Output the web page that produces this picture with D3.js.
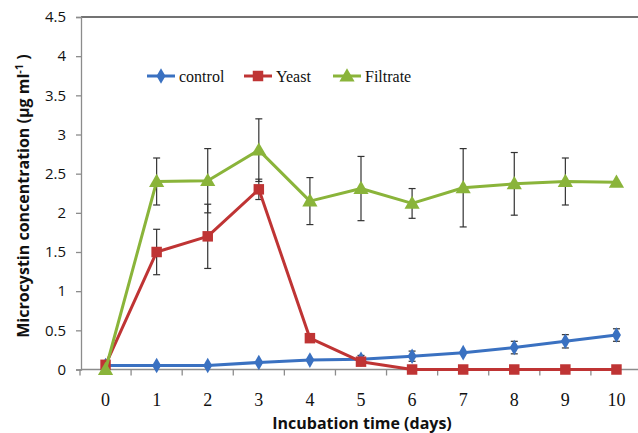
<!DOCTYPE html>
<html>
<head>
<meta charset="utf-8">
<script src="https://cdn.jsdelivr.net/npm/d3@7"></script>
<style>
  html, body { margin: 0; padding: 0; background: #fff; }
  svg { display: block; }
</style>
</head>
<body>
<svg id="chart" width="638" height="433"></svg>
<script>
// Incubation days
const days = [0, 1, 2, 3, 4, 5, 6, 7, 8, 9, 10];

// Microcystin concentration (µg/ml) and standard deviations per treatment
const controlMean = [0.05, 0.05, 0.05, 0.09, 0.12, 0.13, 0.17, 0.215, 0.28, 0.36, 0.44];
const controlErr  = [0, 0, 0, 0, 0, 0.05, 0.065, 0, 0.08, 0.085, 0.08];

const yeastMean = [0.06, 1.5, 1.7, 2.3, 0.4, 0.1, 0, 0, 0, 0, 0];
const yeastErr  = [0, 0.29, 0.41, 0.13, 0, 0, 0, 0, 0, 0, 0];

const filtrateMean = [0, 2.4, 2.41, 2.8, 2.15, 2.31, 2.12, 2.32, 2.37, 2.4, 2.39];
const filtrateErr  = [0, 0.3, 0.41, 0.4, 0.3, 0.41, 0.19, 0.5, 0.4, 0.3, 0];

const yTicks = [0, 0.5, 1, 1.5, 2, 2.5, 3, 3.5, 4, 4.5];

const seriesNames = ["control", "Yeast", "Filtrate"];
const seriesColors = ["#3a71c1", "#bf3434", "#8ab43a"];

const series = [
  { name: seriesNames[0], color: seriesColors[0], mean: controlMean, err: controlErr, symbol: d3.symbolDiamond, size: 70 },
  { name: seriesNames[1], color: seriesColors[1], mean: yeastMean, err: yeastErr, symbol: d3.symbolSquare, size: 110 },
  { name: seriesNames[2], color: seriesColors[2], mean: filtrateMean, err: filtrateErr, symbol: d3.symbolTriangle, size: 100 }
];

const svg = d3.select("#chart");
const plotLeft = 80, plotRight = 642, plotTop = 17, plotBottom = 369.5;

const x = d3.scalePoint().domain(days).range([plotLeft, plotRight]).padding(0.5);
const band = x.step();
const y = d3.scaleLinear().domain([0, 4.5]).range([plotBottom, plotTop]);

const axisColor = "#8c8c8c";

// Top frame line
svg.append("line")
  .attr("x1", plotLeft + 1).attr("x2", 638)
  .attr("y1", plotTop).attr("y2", plotTop)
  .attr("stroke", "#444").attr("stroke-width", 1.5);

// Y axis
const yAxis = svg.append("g")
  .attr("transform", `translate(${plotLeft + 1},0)`)
  .call(d3.axisLeft(y).tickValues(yTicks).tickSize(5).tickPadding(10)
    .tickFormat(d => d3.format("")(d)));
yAxis.select(".domain").attr("stroke", axisColor).attr("stroke-width", 1.3);
yAxis.selectAll(".tick line").attr("stroke", axisColor).attr("stroke-width", 1.3);
yAxis.selectAll(".tick text")
  .attr("font-family", "'Open Sans', 'Noto Sans', sans-serif")
  .attr("font-size", 15).attr("fill", "#111");

// X axis: labels centered on days, ticks on category boundaries
const xAxisG = svg.append("g").attr("transform", `translate(0,${plotBottom})`);
xAxisG.append("line")
  .attr("x1", plotLeft + 1).attr("x2", 638)
  .attr("stroke", axisColor).attr("stroke-width", 1.3);
const boundaries = days.map(d => x(d) - band / 2).concat([x(days[days.length - 1]) + band / 2]);
xAxisG.selectAll("line.tk").data(boundaries).join("line")
  .attr("class", "tk")
  .attr("x1", d => d).attr("x2", d => d)
  .attr("y1", 0).attr("y2", 6)
  .attr("stroke", axisColor).attr("stroke-width", 1.3);
xAxisG.selectAll("text").data(days).join("text")
  .attr("x", d => x(d)).attr("y", 36)
  .attr("text-anchor", "middle")
  .attr("font-family", "'Liberation Serif', 'Times New Roman', serif")
  .attr("font-size", 18).attr("fill", "#111")
  .text(d => d);

// Axis titles
svg.append("text")
  .attr("x", 362).attr("y", 429)
  .attr("text-anchor", "middle")
  .attr("font-family", "'Open Sans', 'Noto Sans', sans-serif")
  .attr("font-weight", "bold").attr("font-size", 16).attr("fill", "#111")
  .text("Incubation time (days)");

const yTitle = svg.append("text")
  .attr("transform", `translate(29,196) rotate(-90)`)
  .attr("text-anchor", "middle")
  .attr("font-family", "'Open Sans', 'Noto Sans', sans-serif")
  .attr("font-weight", "bold").attr("font-size", 16).attr("fill", "#111");
yTitle.append("tspan").text("Microcystin concentration (µg ml");
yTitle.append("tspan").attr("dy", -6).attr("font-size", 11).text("-1");
yTitle.append("tspan").attr("dy", 6).text(" )");

// Error bars
const errG = svg.append("g");
series.forEach(s => {
  days.forEach((d, i) => {
    if (!s.err[i]) return;
    const cx = x(d), y1 = y(s.mean[i] + s.err[i]), y2 = y(s.mean[i] - s.err[i]);
    errG.append("line").attr("x1", cx).attr("x2", cx).attr("y1", y1).attr("y2", y2)
      .attr("stroke", "#333").attr("stroke-width", 1.2);
    [y1, y2].forEach(yy => errG.append("line")
      .attr("x1", cx - 3.5).attr("x2", cx + 3.5).attr("y1", yy).attr("y2", yy)
      .attr("stroke", "#333").attr("stroke-width", 1.2));
  });
});

// Lines and markers
const line = d3.line().x((d, i) => x(days[i])).y(d => y(d));
series.forEach(s => {
  svg.append("path").datum(s.mean)
    .attr("d", line)
    .attr("fill", "none").attr("stroke", s.color).attr("stroke-width", 3)
    .attr("stroke-linejoin", "round");
  svg.append("g").selectAll("path").data(s.mean).join("path")
    .attr("transform", (d, i) => `translate(${x(days[i])},${y(d) + (s.symbol === d3.symbolTriangle ? 1 : 0)})`)
    .attr("d", d3.symbol(s.symbol, s.size))
    .attr("fill", s.color);
});

// Legend
const legendX = [147, 244, 333];
const legendY = 76;
const legend = svg.append("g");
series.forEach((s, i) => {
  const g = legend.append("g").attr("transform", `translate(${legendX[i]},${legendY})`);
  g.append("line").attr("x1", 0).attr("x2", 28).attr("stroke", s.color).attr("stroke-width", 3);
  g.append("path")
    .attr("transform", `translate(14,${s.symbol === d3.symbolTriangle ? 1 : 0})`)
    .attr("d", d3.symbol(s.symbol, s.size))
    .attr("fill", s.color);
  g.append("text").attr("x", 32).attr("y", 6)
    .attr("font-family", "'Liberation Serif', 'Times New Roman', serif")
    .attr("font-size", 16).attr("fill", "#111")
    .text(s.name);
});
</script>
</body>
</html>
